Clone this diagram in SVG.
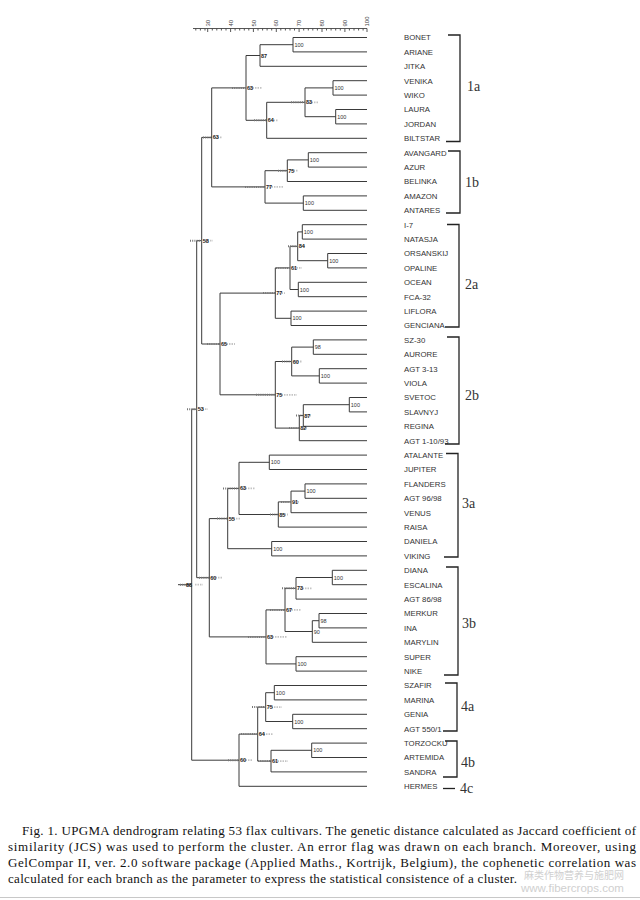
<svg xmlns="http://www.w3.org/2000/svg" width="640" height="900" viewBox="0 0 640 900">
<style>
.ln{fill:none;stroke:#3a3a3a;stroke-width:1}
.ax{fill:none;stroke:#444;stroke-width:0.9}
.lf{font-family:"Liberation Sans",Arial,sans-serif;font-size:7.8px;fill:#333}
.al{font-family:"Liberation Sans",Arial,sans-serif;font-size:6px;fill:#444}
.nl{font-family:"Liberation Sans",Arial,sans-serif;font-size:5.5px;fill:#333}
.fl{font-family:"Liberation Sans",Arial,sans-serif;font-size:5.5px;fill:#222;font-weight:bold}
.fd{stroke:#777;stroke-width:2;stroke-dasharray:1 1.2}
.fr{stroke:#c4c4c4;stroke-width:1.8;stroke-dasharray:1.5 1}
.br{fill:none;stroke:#222;stroke-width:1.3}
.bl{font-family:"Liberation Serif","Times New Roman",serif;font-size:14px;fill:#333}
.cap{font-family:"Liberation Serif","Times New Roman",serif;font-size:13px;fill:#111}
.wm{font-family:"Liberation Sans","Noto Sans CJK SC",sans-serif;fill:#d0d0d0}
</style>
<rect width="640" height="900" fill="#fff"/>

<g id="axis">
<path class="ax" d="M193 28.5H367"/>
<path class="ax" d="M195.8 28.5v2M200.4 28.5v2M205 28.5v2M207.7 28.5v3.5M212.3 28.5v2M216.8 28.5v2M221.4 28.5v2M226 28.5v2M230.6 28.5v3.5M235.1 28.5v2M239.7 28.5v2M244.3 28.5v2M248.8 28.5v2M253.4 28.5v3.5M258 28.5v2M262.6 28.5v2M267.1 28.5v2M271.7 28.5v2M276.3 28.5v3.5M280.8 28.5v2M285.4 28.5v2M290 28.5v2M294.5 28.5v2M299.1 28.5v3.5M303.7 28.5v2M308.3 28.5v2M312.8 28.5v2M317.4 28.5v2M322 28.5v3.5M326.5 28.5v2M331.1 28.5v2M335.7 28.5v2M340.3 28.5v2M344.9 28.5v3.5M349.4 28.5v2M354 28.5v2M358.6 28.5v2M363.1 28.5v2M367 28.5v3.5"/>
<text class="al" transform="translate(209.8,26.5) rotate(-90)">30</text>
<text class="al" transform="translate(232.7,26.5) rotate(-90)">40</text>
<text class="al" transform="translate(255.5,26.5) rotate(-90)">50</text>
<text class="al" transform="translate(278.4,26.5) rotate(-90)">60</text>
<text class="al" transform="translate(301.2,26.5) rotate(-90)">70</text>
<text class="al" transform="translate(324.1,26.5) rotate(-90)">80</text>
<text class="al" transform="translate(347,26.5) rotate(-90)">90</text>
<text class="al" transform="translate(369.1,26.5) rotate(-90)">100</text>
</g>

<g id="connectors">
<path class="ln" d="M367 37.5H293V51.9H367"/>
<path class="ln" d="M293 44.7H260V66.3H367"/>
<path class="ln" d="M367 80.7H333V95.1H367"/>
<path class="ln" d="M367 109.5H335.7V123.9H367"/>
<path class="ln" d="M333 87.9H305V116.7H335.7"/>
<path class="ln" d="M305 102.3H266.7V138.3H367"/>
<path class="ln" d="M260 55.5H246V120.3H266.7"/>
<path class="ln" d="M367 152.7H308.3V167.1H367"/>
<path class="ln" d="M308.3 159.9H287.3V181.5H367"/>
<path class="ln" d="M367 195.9H303.3V210.3H367"/>
<path class="ln" d="M287.3 170.7H265V203.1H303.3"/>
<path class="ln" d="M246 87.9H211.7V186.9H265"/>
<path class="ln" d="M367 224.7H302.3V239.1H367"/>
<path class="ln" d="M367 253.5H327.7V267.9H367"/>
<path class="ln" d="M302.3 231.9H297.7V260.7H327.7"/>
<path class="ln" d="M367 282.3H298.3V296.7H367"/>
<path class="ln" d="M297.7 246.3H290V289.5H298.3"/>
<path class="ln" d="M367 311.1H291V325.5H367"/>
<path class="ln" d="M290 267.9H275.3V318.3H291"/>
<path class="ln" d="M367 339.9H313.3V354.3H367"/>
<path class="ln" d="M367 368.7H319.3V383.1H367"/>
<path class="ln" d="M313.3 347.1H291.7V375.9H319.3"/>
<path class="ln" d="M367 397.5H349.3V411.9H367"/>
<path class="ln" d="M349.3 404.7H303.3V426.3H367"/>
<path class="ln" d="M303.3 415.5H299.3V440.7H367"/>
<path class="ln" d="M291.7 361.5H275.3V428.1H299.3"/>
<path class="ln" d="M275.3 293.1H220V394.8H275.3"/>
<path class="ln" d="M211.7 137.4H201.7V344H220"/>
<path class="ln" d="M367 455.1H269.3V469.5H367"/>
<path class="ln" d="M367 483.9H305V498.3H367"/>
<path class="ln" d="M305 491.1H291V512.7H367"/>
<path class="ln" d="M291 501.9H278.3V527.1H367"/>
<path class="ln" d="M269.3 462.3H239V514.5H278.3"/>
<path class="ln" d="M367 541.5H271.7V555.9H367"/>
<path class="ln" d="M239 488.4H227.7V548.7H271.7"/>
<path class="ln" d="M367 570.3H332.3V584.7H367"/>
<path class="ln" d="M332.3 577.5H296V599.1H367"/>
<path class="ln" d="M367 613.5H319V627.9H367"/>
<path class="ln" d="M319 620.7H312.3V642.3H367"/>
<path class="ln" d="M296 588.3H285V631.5H312.3"/>
<path class="ln" d="M367 656.7H296V671.1H367"/>
<path class="ln" d="M285 609.9H266V663.9H296"/>
<path class="ln" d="M227.7 518.6H209.3V636.9H266"/>
<path class="ln" d="M201.7 240.7H196.7V577.7H209.3"/>
<path class="ln" d="M367 685.5H274.3V699.9H367"/>
<path class="ln" d="M367 714.3H292.7V728.7H367"/>
<path class="ln" d="M274.3 692.7H265.7V721.5H292.7"/>
<path class="ln" d="M367 743.1H311.7V757.5H367"/>
<path class="ln" d="M311.7 750.3H271V771.9H367"/>
<path class="ln" d="M265.7 707.1H257.7V761.1H271"/>
<path class="ln" d="M257.7 734.1H239V786.3H367"/>
<path class="ln" d="M196.7 409.2H191.7V760.2H239"/>
<path class="ln" d="M191.7 584.7H178"/>
</g>

<g id="flags">
<path class="fd" d="M291 102.3H305M254 120.3H266.7M232 87.9H246M278 170.7H287.3M245 186.9H265M203 137.4H211.7M288 246.3H297.7M276 267.9H290M263 293.1H275.3M282 361.5H291.7M296 415.5H303.3M289 428.1H299.3M256 394.8H275.3M207 344H220M190 240.7H201.7M281 501.9H291M270 514.5H278.3M223 488.4H239M217 518.6H227.7M282 588.3H296M270 609.9H285M248 636.9H266M199 577.7H209.3M187 409.2H196.7M252 707.1H265.7M258 761.1H271M241 734.1H257.7M228 760.2H239M180 584.7H191.7"/>
<path class="fr" d="M309 102.3H318M271 120.3H278M250 87.9H262M291 170.7H298M269 186.9H284M215 137.4H222M301 246.3H306M294 267.9H302M279 293.1H285M295 361.5H302M307 415.5H312M303 428.1H308M279 394.8H297M224 344H235M205 240.7H213M295 501.9H300M282 514.5H288M243 488.4H255M231 518.6H240M300 588.3H312M289 609.9H301M270 636.9H287M213 577.7H223M200 409.2H208M269 707.1H282M275 761.1H288M261 734.1H273M243 760.2H252M195 584.7H203"/>
</g>

<g id="nodes">
<g id="n1"><text class="nl" x="294.5" y="46.7">100</text></g>
<g id="n2"><text class="fl" x="261" y="57.5">87</text></g>
<g id="n3"><text class="nl" x="334.5" y="89.9">100</text></g>
<g id="n4"><text class="nl" x="337.2" y="118.7">100</text></g>
<g id="n5"><text class="fl" x="306" y="104.3">83</text></g>
<g id="n6"><text class="fl" x="267.7" y="122.3">64</text></g>
<g id="n7"><text class="fl" x="247" y="89.9">63</text></g>
<g id="n8"><text class="nl" x="309.8" y="161.9">100</text></g>
<g id="n9"><text class="fl" x="288.3" y="172.7">75</text></g>
<g id="n10"><text class="nl" x="304.8" y="205.1">100</text></g>
<g id="n11"><text class="fl" x="266" y="188.9">77</text></g>
<g id="n12"><text class="fl" x="212.7" y="139.4">63</text></g>
<g id="n13"><text class="nl" x="303.8" y="233.9">100</text></g>
<g id="n14"><text class="nl" x="329.2" y="262.7">100</text></g>
<g id="n15"><text class="fl" x="298.7" y="248.3">84</text></g>
<g id="n16"><text class="nl" x="299.8" y="291.5">100</text></g>
<g id="n17"><text class="fl" x="291" y="269.9">61</text></g>
<g id="n18"><text class="nl" x="292.5" y="320.3">100</text></g>
<g id="n19"><text class="fl" x="276.3" y="295.1">77</text></g>
<g id="n20"><text class="nl" x="314.8" y="349.1">98</text></g>
<g id="n21"><text class="nl" x="320.8" y="377.9">100</text></g>
<g id="n22"><text class="fl" x="292.7" y="363.5">60</text></g>
<g id="n23"><text class="nl" x="350.8" y="406.7">100</text></g>
<g id="n24"><text class="fl" x="304.3" y="417.5">87</text></g>
<g id="n25"><text class="fl" x="300.3" y="430.1">82</text></g>
<g id="n26"><text class="fl" x="276.3" y="396.8">75</text></g>
<g id="n27"><text class="fl" x="221" y="346">65</text></g>
<g id="n28"><text class="fl" x="202.7" y="242.7">58</text></g>
<g id="n29"><text class="nl" x="270.8" y="464.3">100</text></g>
<g id="n30"><text class="nl" x="306.5" y="493.1">100</text></g>
<g id="n31"><text class="fl" x="292" y="503.9">91</text></g>
<g id="n32"><text class="fl" x="279.3" y="516.5">85</text></g>
<g id="n33"><text class="fl" x="240" y="490.4">63</text></g>
<g id="n34"><text class="nl" x="273.2" y="550.7">100</text></g>
<g id="n35"><text class="fl" x="228.7" y="520.6">55</text></g>
<g id="n36"><text class="nl" x="333.8" y="579.5">100</text></g>
<g id="n37"><text class="fl" x="297" y="590.3">73</text></g>
<g id="n38"><text class="nl" x="320.5" y="622.7">98</text></g>
<g id="n39"><text class="nl" x="313.8" y="633.5">90</text></g>
<g id="n40"><text class="fl" x="286" y="611.9">67</text></g>
<g id="n41"><text class="nl" x="297.5" y="665.9">100</text></g>
<g id="n42"><text class="fl" x="267" y="638.9">63</text></g>
<g id="n43"><text class="fl" x="210.3" y="579.7">60</text></g>
<g id="n44"><text class="fl" x="197.7" y="411.2">53</text></g>
<g id="n45"><text class="nl" x="275.8" y="694.7">100</text></g>
<g id="n46"><text class="nl" x="294.2" y="723.5">100</text></g>
<g id="n47"><text class="fl" x="266.7" y="709.1">75</text></g>
<g id="n48"><text class="nl" x="313.2" y="752.3">100</text></g>
<g id="n49"><text class="fl" x="272" y="763.1">61</text></g>
<g id="n50"><text class="fl" x="258.7" y="736.1">64</text></g>
<g id="n51"><text class="fl" x="240" y="762.2">60</text></g>
<g id="n52"><text class="fl" x="186" y="586.7">88</text></g>
</g>

<g id="leaves">
<g id="leaf-BONET"><text class="lf" x="404" y="40.3">BONET</text></g>
<g id="leaf-ARIANE"><text class="lf" x="404" y="54.7">ARIANE</text></g>
<g id="leaf-JITKA"><text class="lf" x="404" y="69.1">JITKA</text></g>
<g id="leaf-VENIKA"><text class="lf" x="404" y="83.5">VENIKA</text></g>
<g id="leaf-WIKO"><text class="lf" x="404" y="97.9">WIKO</text></g>
<g id="leaf-LAURA"><text class="lf" x="404" y="112.3">LAURA</text></g>
<g id="leaf-JORDAN"><text class="lf" x="404" y="126.7">JORDAN</text></g>
<g id="leaf-BILTSTAR"><text class="lf" x="404" y="141.1">BILTSTAR</text></g>
<g id="leaf-AVANGARD"><text class="lf" x="404" y="155.5">AVANGARD</text></g>
<g id="leaf-AZUR"><text class="lf" x="404" y="169.9">AZUR</text></g>
<g id="leaf-BELINKA"><text class="lf" x="404" y="184.3">BELINKA</text></g>
<g id="leaf-AMAZON"><text class="lf" x="404" y="198.7">AMAZON</text></g>
<g id="leaf-ANTARES"><text class="lf" x="404" y="213.1">ANTARES</text></g>
<g id="leaf-I-7"><text class="lf" x="404" y="227.5">I-7</text></g>
<g id="leaf-NATASJA"><text class="lf" x="404" y="241.9">NATASJA</text></g>
<g id="leaf-ORSANSKIJ"><text class="lf" x="404" y="256.3">ORSANSKIJ</text></g>
<g id="leaf-OPALINE"><text class="lf" x="404" y="270.7">OPALINE</text></g>
<g id="leaf-OCEAN"><text class="lf" x="404" y="285.1">OCEAN</text></g>
<g id="leaf-FCA-32"><text class="lf" x="404" y="299.5">FCA-32</text></g>
<g id="leaf-LIFLORA"><text class="lf" x="404" y="313.9">LIFLORA</text></g>
<g id="leaf-GENCIANA"><text class="lf" x="404" y="328.3">GENCIANA</text></g>
<g id="leaf-SZ-30"><text class="lf" x="404" y="342.7">SZ-30</text></g>
<g id="leaf-AURORE"><text class="lf" x="404" y="357.1">AURORE</text></g>
<g id="leaf-AGT3-13"><text class="lf" x="404" y="371.5">AGT 3-13</text></g>
<g id="leaf-VIOLA"><text class="lf" x="404" y="385.9">VIOLA</text></g>
<g id="leaf-SVETOC"><text class="lf" x="404" y="400.3">SVETOC</text></g>
<g id="leaf-SLAVNYJ"><text class="lf" x="404" y="414.7">SLAVNYJ</text></g>
<g id="leaf-REGINA"><text class="lf" x="404" y="429.1">REGINA</text></g>
<g id="leaf-AGT1-10-93"><text class="lf" x="404" y="443.5">AGT 1-10/93</text></g>
<g id="leaf-ATALANTE"><text class="lf" x="404" y="457.9">ATALANTE</text></g>
<g id="leaf-JUPITER"><text class="lf" x="404" y="472.3">JUPITER</text></g>
<g id="leaf-FLANDERS"><text class="lf" x="404" y="486.7">FLANDERS</text></g>
<g id="leaf-AGT96-98"><text class="lf" x="404" y="501.1">AGT 96/98</text></g>
<g id="leaf-VENUS"><text class="lf" x="404" y="515.5">VENUS</text></g>
<g id="leaf-RAISA"><text class="lf" x="404" y="529.9">RAISA</text></g>
<g id="leaf-DANIELA"><text class="lf" x="404" y="544.3">DANIELA</text></g>
<g id="leaf-VIKING"><text class="lf" x="404" y="558.7">VIKING</text></g>
<g id="leaf-DIANA"><text class="lf" x="404" y="573.1">DIANA</text></g>
<g id="leaf-ESCALINA"><text class="lf" x="404" y="587.5">ESCALINA</text></g>
<g id="leaf-AGT86-98"><text class="lf" x="404" y="601.9">AGT 86/98</text></g>
<g id="leaf-MERKUR"><text class="lf" x="404" y="616.3">MERKUR</text></g>
<g id="leaf-INA"><text class="lf" x="404" y="630.7">INA</text></g>
<g id="leaf-MARYLIN"><text class="lf" x="404" y="645.1">MARYLIN</text></g>
<g id="leaf-SUPER"><text class="lf" x="404" y="659.5">SUPER</text></g>
<g id="leaf-NIKE"><text class="lf" x="404" y="673.9">NIKE</text></g>
<g id="leaf-SZAFIR"><text class="lf" x="404" y="688.3">SZAFIR</text></g>
<g id="leaf-MARINA"><text class="lf" x="404" y="702.7">MARINA</text></g>
<g id="leaf-GENIA"><text class="lf" x="404" y="717.1">GENIA</text></g>
<g id="leaf-AGT550-1"><text class="lf" x="404" y="731.5">AGT 550/1</text></g>
<g id="leaf-TORZOCKU"><text class="lf" x="404" y="745.9">TORZOCKU</text></g>
<g id="leaf-ARTEMIDA"><text class="lf" x="404" y="760.3">ARTEMIDA</text></g>
<g id="leaf-SANDRA"><text class="lf" x="404" y="774.7">SANDRA</text></g>
<g id="leaf-HERMES"><text class="lf" x="404" y="789.1">HERMES</text></g>
</g>

<g id="groups">
<g id="g1a"><path class="br" d="M448 35H460V141.5H446"/><text class="bl" x="467" y="91">1a</text></g>
<g id="g1b"><path class="br" d="M448 151H460V213H446"/><text class="bl" x="465" y="187">1b</text></g>
<g id="g2a"><path class="br" d="M447 224.5H459V327H445"/><text class="bl" x="465" y="289">2a</text></g>
<g id="g2b"><path class="br" d="M447 337H459V444H445"/><text class="bl" x="465" y="400">2b</text></g>
<g id="g3a"><path class="br" d="M446 453.5H458V557H444"/><text class="bl" x="462" y="508">3a</text></g>
<g id="g3b"><path class="br" d="M446 567H458V675H444"/><text class="bl" x="462" y="628">3b</text></g>
<g id="g4a"><path class="br" d="M445 683H457V731H443"/><text class="bl" x="461" y="711">4a</text></g>
<g id="g4b"><path class="br" d="M445 741H457V777H443"/><text class="bl" x="461" y="767">4b</text></g>
<g id="g4c"><path class="br" d="M443 788.5H455"/><text class="bl" x="460" y="793">4c</text></g>
</g>

<g id="caption">
<text class="cap" x="22" y="835" textLength="614" lengthAdjust="spacing">Fig. 1. UPGMA dendrogram relating 53 flax cultivars. The genetic distance calculated as Jaccard coefficient of</text>
<text class="cap" x="8" y="851" textLength="628" lengthAdjust="spacing">similarity (JCS) was used to perform the cluster. An error flag was drawn on each branch. Moreover, using</text>
<text class="cap" x="8" y="867" textLength="628" lengthAdjust="spacing">GelCompar II, ver. 2.0 software package (Applied Maths., Kortrijk, Belgium), the cophenetic correlation was</text>
<text class="cap" x="8" y="883" textLength="509" lengthAdjust="spacing">calculated for each branch as the parameter to express the statistical consistence of a cluster.</text>
</g>

<g id="watermark">
<text class="wm" x="524" y="879" font-size="10">麻类作物营养与施肥网</text>
<text class="wm" x="521" y="892" font-size="11.5">www.fibercrops.com</text>
</g>
<path d="M0 897.5H640" stroke="#c8c8c8" stroke-width="1"/>
</svg>
